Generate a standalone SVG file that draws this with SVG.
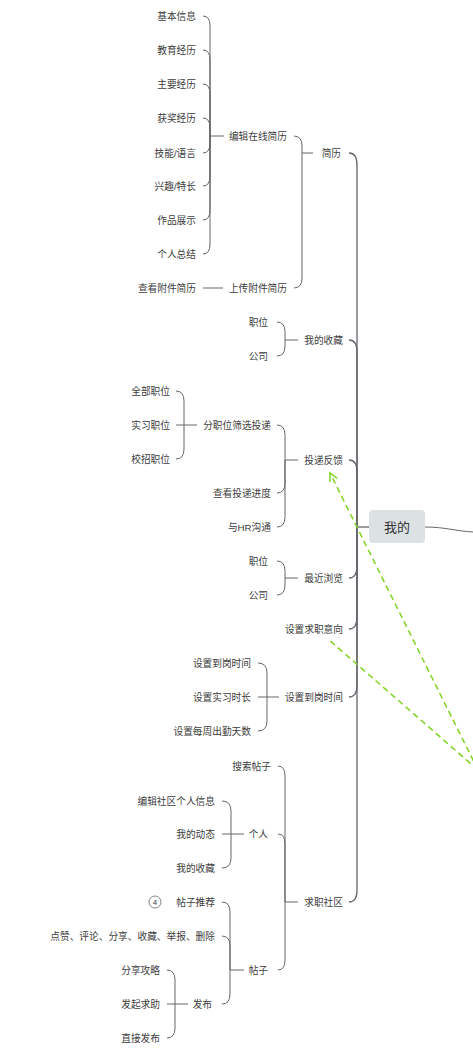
<svg xmlns="http://www.w3.org/2000/svg" width="473" height="1057" viewBox="0 0 473 1057">
<style>
text{font-family:"Liberation Sans","Noto Sans CJK SC",sans-serif;font-size:9.7px;fill:#3c3c3c;text-anchor:end;dominant-baseline:central}
.c path{fill:none;stroke:#62666b;stroke-width:1}
.c .t{stroke-width:1.3}
.root text{font-size:13px;text-anchor:middle;fill:#333}
.rel{fill:none;stroke:#7ed321;stroke-width:1.5;stroke-dasharray:6 4}
</style>
<defs>
<marker id="ah" markerUnits="userSpaceOnUse" markerWidth="12" markerHeight="12" refX="9" refY="5" orient="auto">
<path d="M1,1 L9,5 L1,9" fill="none" stroke="#7ed321" stroke-width="1.5"/>
</marker>
</defs>
<g class="c" id="connectors">
<path d="M425 527 C445 527 455 531 473 532"/>
<path class="t" d="M357 527 H370"/>
<path class="t" d="M357 527 V165 Q357 153 349 153"/>
<path class="t" d="M357 527 V352 Q357 340 349 340"/>
<path class="t" d="M357 527 V472 Q357 460 349 460"/>
<path class="t" d="M357 527 V566 Q357 578 349 578"/>
<path class="t" d="M357 527 V617 Q357 629 349 629"/>
<path class="t" d="M357 527 V685 Q357 697 349 697"/>
<path class="t" d="M357 527 V890 Q357 902 349 902"/>
<path d="M302 153 H313"/>
<path d="M302 153 V146 Q302 136 294 136"/>
<path d="M302 153 V278 Q302 288 294 288"/>
<path d="M210 136 H224"/>
<path d="M210 136 V26 Q210 16 203 16"/>
<path d="M210 136 V60 Q210 50 203 50"/>
<path d="M210 136 V94 Q210 84 203 84"/>
<path d="M210 136 V128 Q210 118 203 118"/>
<path d="M210 136 V143 Q210 153 203 153"/>
<path d="M210 136 V176 Q210 186 203 186"/>
<path d="M210 136 V210 Q210 220 203 220"/>
<path d="M210 136 V244 Q210 254 203 254"/>
<path d="M203 288 H223"/>
<path d="M285 340 H298"/>
<path d="M285 340 V332 Q285 322 277 322"/>
<path d="M285 340 V346 Q285 356 277 356"/>
<path d="M285 460 H298"/>
<path d="M285 460 V435 Q285 425 277 425"/>
<path d="M285 460 V483 Q285 493 277 493"/>
<path d="M285 460 V517 Q285 527 277 527"/>
<path d="M184 425 H197"/>
<path d="M184 425 V401 Q184 391 176 391"/>
<path d="M184 425 H176"/>
<path d="M184 425 V449 Q184 459 176 459"/>
<path d="M285 578 H298"/>
<path d="M285 578 V571 Q285 561 277 561"/>
<path d="M285 578 V585 Q285 595 277 595"/>
<path d="M267 697 H279"/>
<path d="M267 697 V673 Q267 663 258 663"/>
<path d="M267 697 H258"/>
<path d="M267 697 V721 Q267 731 258 731"/>
<path d="M285 902 H298"/>
<path d="M285 902 V776 Q285 766 278 766"/>
<path d="M285 902 V844 Q285 834 278 834"/>
<path d="M285 902 V960 Q285 970 278 970"/>
<path d="M231 834 H244"/>
<path d="M231 834 V811 Q231 801 222 801"/>
<path d="M231 834 H222"/>
<path d="M231 834 V858 Q231 868 222 868"/>
<path d="M230 970 H244"/>
<path d="M230 970 V912 Q230 902 222 902"/>
<path d="M230 970 V946 Q230 936 222 936"/>
<path d="M230 970 V994 Q230 1004 222 1004"/>
<path d="M175 1004 H188"/>
<path d="M175 1004 V980 Q175 970 167 970"/>
<path d="M175 1004 H167"/>
<path d="M175 1004 V1028 Q175 1038 167 1038"/>
</g>
<g id="relations">
<path class="rel" d="M478 770 L330 473" marker-end="url(#ah)"/>
<path class="rel" d="M478 770 L328 639"/>
</g>
<g id="root" class="root">
<rect x="369" y="510" width="56" height="33" rx="4" fill="#dce2e4"/>
<text x="397" y="527">我的</text>
</g>
<g id="n-jianli"><text x="341" y="153">简历</text></g>
<g id="n-bianji"><text x="287" y="136">编辑在线简历</text></g>
<g id="n-jiben"><text x="196" y="16">基本信息</text></g>
<g id="n-jiaoyu"><text x="196" y="50">教育经历</text></g>
<g id="n-zhuyao"><text x="196" y="84">主要经历</text></g>
<g id="n-huojiang"><text x="196" y="118">获奖经历</text></g>
<g id="n-jineng"><text x="196" y="153">技能/语言</text></g>
<g id="n-xingqu"><text x="196" y="186">兴趣/特长</text></g>
<g id="n-zuopin"><text x="196" y="220">作品展示</text></g>
<g id="n-geren-zj"><text x="196" y="254">个人总结</text></g>
<g id="n-shangchuan"><text x="287" y="288">上传附件简历</text></g>
<g id="n-chakan-fj"><text x="196" y="288">查看附件简历</text></g>
<g id="n-shoucang"><text x="343" y="340">我的收藏</text></g>
<g id="n-sc-zhiwei"><text x="268" y="322">职位</text></g>
<g id="n-sc-gongsi"><text x="268" y="356">公司</text></g>
<g id="n-toudi"><text x="343" y="460">投递反馈</text></g>
<g id="n-fenzhiwei"><text x="271" y="425">分职位筛选投递</text></g>
<g id="n-quanbu"><text x="170" y="391">全部职位</text></g>
<g id="n-shixi"><text x="170" y="425">实习职位</text></g>
<g id="n-xiaozhao"><text x="170" y="459">校招职位</text></g>
<g id="n-jindu"><text x="271" y="493">查看投递进度</text></g>
<g id="n-hr"><text x="271" y="527">与HR沟通</text></g>
<g id="n-zuijin"><text x="343" y="578">最近浏览</text></g>
<g id="n-zj-zhiwei"><text x="268" y="561">职位</text></g>
<g id="n-zj-gongsi"><text x="268" y="595">公司</text></g>
<g id="n-yixiang"><text x="343" y="629">设置求职意向</text></g>
<g id="n-daogang"><text x="343" y="697">设置到岗时间</text></g>
<g id="n-dg-time"><text x="251" y="663">设置到岗时间</text></g>
<g id="n-dg-shichang"><text x="251" y="697">设置实习时长</text></g>
<g id="n-dg-chuqin"><text x="251" y="731">设置每周出勤天数</text></g>
<g id="n-shequ"><text x="343" y="902">求职社区</text></g>
<g id="n-sousuo"><text x="271" y="766">搜索帖子</text></g>
<g id="n-geren"><text x="268" y="834">个人</text></g>
<g id="n-gr-bianji"><text x="215" y="801">编辑社区个人信息</text></g>
<g id="n-gr-dongtai"><text x="215" y="834">我的动态</text></g>
<g id="n-gr-shoucang"><text x="215" y="868">我的收藏</text></g>
<g id="n-tiezi"><text x="268" y="970">帖子</text></g>
<g id="n-tuijian"><text x="215" y="902">帖子推荐</text>
<circle cx="155" cy="902" r="6" fill="none" stroke="#666" stroke-width="0.8"/>
<text x="155" y="902" style="font-size:8px;text-anchor:middle">4</text></g>
<g id="n-dianzan"><text x="215" y="936">点赞、评论、分享、收藏、举报、删除</text></g>
<g id="n-fabu"><text x="212" y="1004">发布</text></g>
<g id="n-gonglue"><text x="160" y="970">分享攻略</text></g>
<g id="n-qiuzhu"><text x="160" y="1004">发起求助</text></g>
<g id="n-zhijie"><text x="160" y="1038">直接发布</text></g>
</svg>
